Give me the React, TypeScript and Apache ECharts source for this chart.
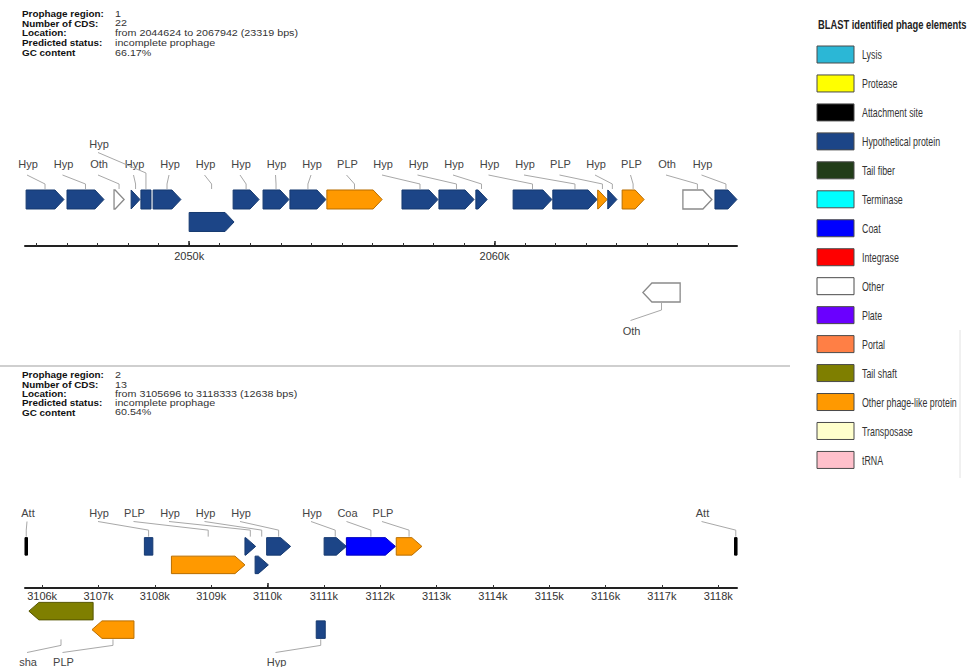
import React, { useEffect, useRef } from 'react';
import * as echarts from 'echarts';

// ---------- categories ----------
const phageTypes = [
  'Lysis', 'Protease', 'Attachment site', 'Hypothetical protein', 'Tail fiber', 'Terminase', 'Coat',
  'Integrase', 'Other', 'Plate', 'Portal', 'Tail shaft', 'Other phage-like protein', 'Transposase', 'tRNA',
];
const phageColors = [
  '#2bb7d6', '#ffff00', '#000000', '#1c4587', '#223d19', '#00ffff', '#0000ff',
  '#ff0000', '#ffffff', '#6a00ff', '#ff7f45', '#7f7f00', '#ff9900', '#ffffcc', '#ffc0cb',
];
const legendTitle = 'BLAST identified phage elements';
const geneStrokes: Record<string, string> = {
  'Hypothetical protein': '#163a70',
  'Other phage-like protein': '#b86e00',
  Other: '#8a8a8a',
  Coat: '#0000c0',
  'Tail shaft': '#555500',
  'Attachment site': '#000000',
};

// ---------- region info ----------
const infoLabels = ['Prophage region:', 'Number of CDS:', 'Location:', 'Predicted status:', 'GC content'];
const region1Info = ['1', '22', 'from 2044624 to 2067942 (23319 bps)', 'incomplete prophage', '66.17%'];
const region2Info = ['2', '13', 'from 3105696 to 3118333 (12638 bps)', 'incomplete prophage', '60.54%'];

// ---------- axes ----------
const region1Range = [2044624, 2067942];
const region2Range = [3105696, 3118333];
const region1TickLabels = [2050000, 2060000];
const region2TickLabels = [3106000, 3107000, 3108000, 3109000, 3110000, 3111000, 3112000, 3113000, 3114000, 3115000, 3116000, 3117000, 3118000];
const region1MajorTicks = [2050000, 2060000];
const region2MajorTicks = [3110000];

// ---------- genes ----------
// start, end, strand (1 above axis / -1 below), lane (1 near axis, 2 far), type, label, shape, label tier
type Gene = [number, number, number, number, string, string, string, number];
const HYP = 'Hypothetical protein';
const PLP = 'Other phage-like protein';
const region1Genes: Gene[] = [
  [2044660, 2045900, 1, 2, HYP, 'Hyp', 'arrow', 0],
  [2046000, 2047210, 1, 2, HYP, 'Hyp', 'arrow', 0],
  [2047540, 2047870, 1, 2, 'Other', 'Oth', 'arrow', 0],
  [2048100, 2048390, 1, 2, HYP, 'Hyp', 'arrow', 0],
  [2048420, 2048750, 1, 2, HYP, 'Hyp', 'box', 1],
  [2048820, 2049730, 1, 2, HYP, 'Hyp', 'arrow', 0],
  [2050000, 2051470, 1, 1, HYP, 'Hyp', 'arrow', 0],
  [2051440, 2052290, 1, 2, HYP, 'Hyp', 'arrow', 0],
  [2052420, 2053270, 1, 2, HYP, 'Hyp', 'arrow', 0],
  [2053300, 2054480, 1, 2, HYP, 'Hyp', 'arrow', 0],
  [2054510, 2056320, 1, 2, PLP, 'PLP', 'arrow', 0],
  [2056970, 2058150, 1, 2, HYP, 'Hyp', 'arrow', 0],
  [2058180, 2059330, 1, 2, HYP, 'Hyp', 'arrow', 0],
  [2059390, 2059760, 1, 2, HYP, 'Hyp', 'arrow', 0],
  [2060610, 2061880, 1, 2, HYP, 'Hyp', 'arrow', 0],
  [2061910, 2063360, 1, 2, HYP, 'Hyp', 'arrow', 0],
  [2063380, 2063690, 1, 2, PLP, 'PLP', 'arrow', 0],
  [2063710, 2064010, 1, 2, HYP, 'Hyp', 'arrow', 0],
  [2064180, 2064900, 1, 2, PLP, 'PLP', 'arrow', 0],
  [2066170, 2067120, 1, 2, 'Other', 'Oth', 'arrow', 0],
  [2067220, 2067940, 1, 2, HYP, 'Hyp', 'arrow', 0],
  [2064860, 2066080, -1, 2, 'Other', 'Oth', 'arrow', 0],
];
const region2Genes: Gene[] = [
  [3105696, 3105740, 1, 2, 'Attachment site', 'Att', 'box', 0],
  [3107815, 3107965, 1, 2, HYP, 'Hyp', 'box', 0],
  [3108295, 3109600, 1, 1, PLP, 'PLP', 'arrow', 0],
  [3109600, 3109790, 1, 2, HYP, 'Hyp', 'arrow', 0],
  [3109780, 3110015, 1, 1, HYP, 'Hyp', 'arrow', 0],
  [3109985, 3110410, 1, 2, HYP, 'Hyp', 'arrow', 0],
  [3111005, 3111400, 1, 2, HYP, 'Hyp', 'arrow', 0],
  [3111400, 3112270, 1, 2, 'Coat', 'Coa', 'arrow', 0],
  [3112285, 3112740, 1, 2, PLP, 'PLP', 'arrow', 0],
  [3118290, 3118333, 1, 2, 'Attachment site', 'Att', 'box', 0],
  [3105765, 3106905, -1, 1, 'Tail shaft', 'sha', 'arrow', 0],
  [3106885, 3107630, -1, 2, PLP, 'PLP', 'arrow', 0],
  [3110865, 3111025, -1, 2, HYP, 'Hyp', 'box', 0],
];

// ---------- layout (pixels) ----------
const FONT = 'Liberation Sans, Arial, sans-serif';
const GRID_LEFT = 25;
const GRID_WIDTH = 712;
const SLOT_W = 35.5;
const SLOT_BIAS = 0.9;
const layouts = [
  { axisY: 246, unit: 22.5, laneOffset: 0.067, geneH: 19, head: 9, topDy: -82.5, upperDy: -102.5, bottomDy: 84.5, leadTop: 11.5, leadBottom: -10, kinkTop: 5, kinkBottom: 7, labelMargin: 4, infoY: 13.3, infoStep: 9.9 },
  { axisY: 588, unit: 18.5, laneOffset: 0.25, geneH: 17.5, head: 10, topDy: -75, upperDy: -95, bottomDy: 73.5, leadTop: 8.5, leadBottom: -9, kinkTop: 6.5, kinkBottom: 6, labelMargin: 2.5, infoY: 375, infoStep: 9.3 },
];
const legendLayout = { x: 817, y0: 54.5, step: 28.96, w: 37, h: 17, textX: 862, fontSize: 13, scaleX: 0.68, titleY: 24, titleScaleX: 0.72 };
const regions = [
  { genes: region1Genes, range: region1Range, labels: region1TickLabels, major: region1MajorTicks, info: region1Info },
  { genes: region2Genes, range: region2Range, labels: region2TickLabels, major: region2MajorTicks, info: region2Info },
];

function colorOf(type: string) {
  return phageColors[phageTypes.indexOf(type)];
}

function kTicks(range: number[]) {
  const out: number[] = [];
  for (let v = Math.ceil(range[0] / 1000) * 1000; v <= range[1]; v += 1000) out.push(v);
  return out;
}

function geneSeries(ri: number) {
  const reg = regions[ri];
  const L = layouts[ri];
  return {
    type: 'custom',
    name: 'genes' + ri,
    xAxisIndex: ri * 2,
    yAxisIndex: ri,
    clip: false,
    encode: { x: [0, 1], y: 2 },
    data: reg.genes.map((g) => [g[0], g[1], g[2] * (g[3] + L.laneOffset)]),
    renderItem: (params: any, api: any) => {
      const g = reg.genes[params.dataIndex];
      const y = api.value(2);
      const ps = api.coord([api.value(0), y]);
      const pe = api.coord([api.value(1), y]);
      let xs = ps[0];
      let xe = pe[0];
      if (xe - xs < 2.5) {
        const c = (xs + xe) / 2;
        xs = c - 1.25;
        xe = c + 1.25;
      }
      const yc = ps[1];
      const top = yc - L.geneH / 2;
      const bot = yc + L.geneH / 2;
      const w = xe - xs;
      let points: number[][];
      if (g[6] === 'box') {
        points = [[xs, top], [xe, top], [xe, bot], [xs, bot]];
      } else if (g[2] > 0) {
        const a = Math.min(L.head, w);
        points = [[xs, top], [xe - a, top], [xe, yc], [xe - a, bot], [xs, bot]];
      } else {
        const a = Math.min(L.head, w);
        points = [[xe, top], [xs + a, top], [xs, yc], [xs + a, bot], [xe, bot]];
      }
      return {
        type: 'polygon',
        shape: { points },
        style: { fill: colorOf(g[4]), stroke: geneStrokes[g[4]] || '#444', lineWidth: g[4] === 'Other' ? 1.3 : 1 },
      };
    },
  };
}

type LabelItem = { anchor: number; text: string; side: number; tier: number; slot: number };

// labels sit on evenly spaced pixel slots; resolve collisions right-to-left, then left-to-right
function assignSlots(items: LabelItem[], toPx: (v: number) => number, slot0: number, maxSlot: number) {
  const sorted = items.slice().sort((a, b) => a.anchor - b.anchor);
  let next = maxSlot + 1;
  for (let i = sorted.length - 1; i >= 0; i--) {
    let ideal = Math.round((toPx(sorted[i].anchor) - (slot0 + 10)) / SLOT_W - SLOT_BIAS);
    ideal = Math.max(0, Math.min(maxSlot, ideal));
    sorted[i].slot = Math.min(ideal, next - 1);
    next = sorted[i].slot;
  }
  let prev = -1;
  sorted.forEach((it) => {
    it.slot = Math.max(it.slot, prev + 1);
    prev = it.slot;
  });
}

function labelSeries(chart: any, ri: number) {
  const reg = regions[ri];
  const L = layouts[ri];
  const toPx = (v: number) => chart.convertToPixel({ xAxisIndex: ri * 2 }, v) as number;
  const slot0 = toPx(reg.range[0]) - 7;
  const maxSlot = Math.floor((toPx(reg.range[1]) - slot0 - 20) / SLOT_W);
  const items: LabelItem[] = reg.genes.map((g) => ({
    anchor: (g[0] + g[1]) / 2,
    text: g[5],
    side: g[2],
    tier: g[7],
    slot: 0,
  }));
  assignSlots(items.filter((it) => it.side > 0 && it.tier === 0), toPx, slot0, maxSlot);
  assignSlots(items.filter((it) => it.side > 0 && it.tier === 1), toPx, slot0, maxSlot);
  assignSlots(items.filter((it) => it.side < 0), toPx, slot0, maxSlot);
  return {
    type: 'custom',
    name: 'labels' + ri,
    xAxisIndex: ri * 2,
    yAxisIndex: ri,
    clip: false,
    encode: { x: 0, y: 1 },
    data: items.map((it) => [it.anchor, 0]),
    renderItem: (params: any, api: any) => {
      const it = items[params.dataIndex];
      const p = api.coord([api.value(0), 0]);
      const gx = p[0];
      const axisY = p[1];
      const tx = slot0 + it.slot * SLOT_W + 10;
      let ty: number;
      let pts: number[][];
      if (it.side > 0) {
        const endY = api.coord([it.anchor, 2 + L.laneOffset])[1] - L.geneH / 2 - 1;
        if (it.tier === 1) {
          ty = axisY + L.upperDy;
          pts = [[tx - 1, ty + 9], [gx, endY - 16], [gx, endY]];
        } else {
          ty = axisY + L.topDy;
          pts = [[tx - 1, ty + L.leadTop], [gx, endY - L.kinkTop], [gx, endY]];
        }
      } else {
        const endY = api.coord([it.anchor, -(2 + L.laneOffset)])[1] + L.geneH / 2 + 1;
        ty = axisY + L.bottomDy;
        pts = [[tx - 1, ty + L.leadBottom], [gx, endY + L.kinkBottom], [gx, endY]];
      }
      return {
        type: 'group',
        children: [
          { type: 'polyline', shape: { points: pts }, style: { stroke: '#a8a8a8', lineWidth: 1, fill: null } },
          {
            type: 'text',
            style: { text: it.text, x: tx, y: ty, align: 'center', verticalAlign: 'middle', fill: '#444', fontSize: 11, fontFamily: FONT },
          },
        ],
      };
    },
  };
}

function buildAxes() {
  const xAxis: any[] = [];
  const yAxis: any[] = [];
  const grid: any[] = [];
  regions.forEach((reg, ri) => {
    const L = layouts[ri];
    grid.push({ left: GRID_LEFT, width: GRID_WIDTH, top: L.axisY - 3 * L.unit, height: 3 * L.unit, containLabel: false, outerBoundsMode: 'none' });
    yAxis.push({ gridIndex: ri, type: 'value', min: 0, max: 3, show: false });
    xAxis.push({
      gridIndex: ri,
      type: 'value',
      position: 'bottom',
      min: reg.range[0],
      max: reg.range[1],
      axisLine: { show: true, onZero: false, lineStyle: { color: '#222', width: 2 } },
      axisTick: { show: true, inside: true, length: 3, customValues: kTicks(reg.range), lineStyle: { color: '#333', width: 1 } },
      axisLabel: {
        show: true,
        customValues: reg.labels,
        margin: L.labelMargin,
        color: '#333',
        fontSize: 11,
        fontFamily: FONT,
        formatter: (v: number) => Math.round(v / 1000) + 'k',
      },
      splitLine: { show: false },
    });
    xAxis.push({
      gridIndex: ri,
      type: 'value',
      position: 'bottom',
      min: reg.range[0],
      max: reg.range[1],
      axisLine: { show: false, onZero: false },
      axisTick: { show: true, inside: true, length: 5, customValues: reg.major, lineStyle: { color: '#222', width: 1.5 } },
      axisLabel: { show: false },
      splitLine: { show: false },
    });
  });
  return { xAxis, yAxis, grid };
}

function infoGraphics() {
  const els: any[] = [];
  regions.forEach((reg, ri) => {
    const L = layouts[ri];
    infoLabels.forEach((lab, i) => {
      const y = L.infoY + i * L.infoStep;
      els.push({
        type: 'text', x: 22, y, scaleX: 1.1,
        style: { text: lab, fill: '#111', fontSize: 9, fontWeight: 'bold', fontFamily: FONT, verticalAlign: 'middle' },
      });
      els.push({
        type: 'text', x: 115, y, scaleX: 1.13,
        style: { text: reg.info[i], fill: '#333', fontSize: 9.5, fontFamily: FONT, verticalAlign: 'middle' },
      });
    });
  });
  els.push({ type: 'line', shape: { x1: 0, y1: 366, x2: 790, y2: 366 }, style: { stroke: '#cfcfcf', lineWidth: 2 } });
  els.push({ type: 'line', shape: { x1: 960, y1: 330, x2: 960, y2: 478 }, style: { stroke: '#e2e2e2', lineWidth: 1 } });
  return els;
}

function legendGraphics() {
  const G = legendLayout;
  const els: any[] = [];
  els.push({
    type: 'text', x: G.x + 1, y: G.titleY, scaleX: G.titleScaleX,
    style: { text: legendTitle, fill: '#222', fontSize: 13, fontWeight: 'bold', fontFamily: FONT, verticalAlign: 'middle' },
  });
  phageTypes.forEach((name, i) => {
    const yc = G.y0 + i * G.step;
    els.push({
      type: 'rect',
      shape: { x: G.x, y: yc - G.h / 2, width: G.w, height: G.h },
      style: { fill: phageColors[i], stroke: '#4a4a4a', lineWidth: 1 },
    });
    els.push({
      type: 'text', x: G.textX, y: yc, scaleX: G.scaleX,
      style: { text: name, fill: '#333', fontSize: G.fontSize, fontFamily: FONT, verticalAlign: 'middle' },
    });
  });
  return els;
}

export default function App() {
  const ref = useRef<HTMLDivElement>(null);
  useEffect(() => {
    if (!ref.current) return;
    const chart = echarts.init(ref.current, null, { renderer: 'svg' });
    const { xAxis, yAxis, grid } = buildAxes();
    const baseSeries: any[] = [geneSeries(0), geneSeries(1)];
    chart.setOption({
      animation: false,
      backgroundColor: '#ffffff',
      grid,
      xAxis,
      yAxis,
      graphic: [...infoGraphics(), ...legendGraphics()],
      series: baseSeries,
    });
    chart.setOption({ series: [...baseSeries, labelSeries(chart, 0), labelSeries(chart, 1)] });
    return () => chart.dispose();
  }, []);
  return <div ref={ref} style={{ position: 'fixed', left: 0, top: 0, width: 968, height: 667, background: '#fff' }} />;
}
